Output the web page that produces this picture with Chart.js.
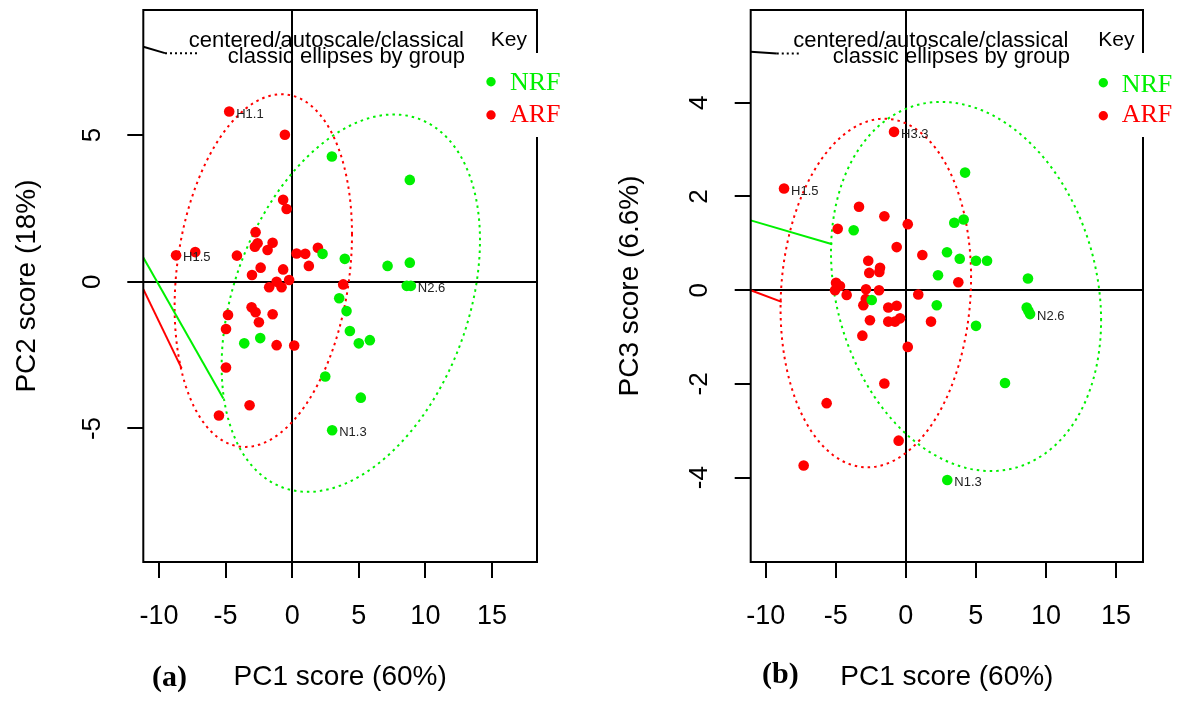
<!DOCTYPE html>
<html>
<head>
<meta charset="utf-8">
<script src="https://cdn.jsdelivr.net/npm/chart.js@4.4.1/dist/chart.umd.min.js"></script>
<style>
  html, body { margin: 0; padding: 0; background: #fff; }
  #wrap { position: relative; width: 1178px; height: 704px; }
  canvas { position: absolute; top: 0; }
  #ca { left: 0; }
  #cb { left: 589px; }
</style>
</head>
<body>
<div id="wrap">
  <canvas id="ca" width="589" height="704"></canvas>
  <canvas id="cb" width="589" height="704"></canvas>
</div>
<script>
/* PCA score plots: (a) PC1 vs PC2, (b) PC1 vs PC3 */

const xTicks = [-10, -5, 0, 5, 10, 15];
const yTicksA = [-5, 0, 5];
const yTicksB = [-4, -2, 0, 2, 4];

// --- panel (a) scores [PC1, PC2] ---
const nrfA = [[2.98, 4.27], [8.83, 3.47], [2.28, 0.95], [3.95, 0.78], [7.16, 0.54], [8.83, 0.65],
    [8.60, -0.14], [8.91, -0.14], [3.53, -0.56], [4.08, -1.00], [4.33, -1.68], [5.00, -2.10],
    [5.83, -1.99], [-3.60, -2.10], [-2.40, -1.92], [2.48, -3.23], [5.15, -3.95], [3.00, -5.06]];
const arfA = [[-4.73, 5.80], [-0.55, 5.01], [-0.68, 2.79], [-0.42, 2.48], [-2.75, 1.69], [-2.60, 1.31],
    [-2.80, 1.19], [-1.47, 1.33], [-1.85, 1.08], [-8.72, 0.90], [-7.28, 1.01], [-4.15, 0.89],
    [0.33, 0.96], [0.98, 0.95], [1.93, 1.16], [-2.37, 0.48], [-0.68, 0.42], [1.25, 0.54],
    [-3.02, 0.23], [-1.17, 0.00], [-0.23, 0.06], [-1.73, -0.19], [-0.80, -0.19], [3.83, -0.09],
    [-3.05, -0.87], [-2.75, -1.04], [-1.47, -1.11], [-4.82, -1.13], [-2.50, -1.38], [-4.97, -1.61],
    [-1.17, -2.16], [0.15, -2.17], [-4.97, -2.92], [-3.20, -4.21], [-5.50, -4.56]];

// --- panel (b) scores [PC1, PC3] ---
const nrfB = [[4.23, 2.51], [3.46, 1.44], [4.13, 1.51], [-3.72, 1.28], [2.94, 0.81], [3.85, 0.67],
    [5.01, 0.63], [5.80, 0.63], [2.30, 0.32], [8.72, 0.25], [-2.43, -0.21], [2.21, -0.32],
    [8.63, -0.37], [8.87, -0.51], [5.01, -0.76], [7.08, -1.98], [2.96, -4.05], [8.75, -0.44]];
const arfB = [[-0.84, 3.38], [-8.69, 2.17], [-3.34, 1.78], [-1.53, 1.58], [0.14, 1.41], [-4.86, 1.31],
    [-0.65, 0.92], [1.18, 0.75], [-2.68, 0.63], [-1.84, 0.48], [-2.61, 0.37], [-1.89, 0.39],
    [3.75, 0.17], [-4.98, 0.16], [-4.70, 0.09], [-5.05, 0.00], [-4.22, -0.10], [-2.84, 0.02],
    [-1.91, 0.00], [0.89, -0.09], [-2.86, -0.19], [-3.03, -0.32], [-1.25, -0.37], [-0.65, -0.33],
    [-2.56, -0.64], [-1.25, -0.67], [-0.77, -0.67], [-0.41, -0.60], [1.80, -0.67], [-3.10, -0.97],
    [0.14, -1.21], [-1.53, -1.99], [-5.65, -2.41], [-0.51, -3.21], [-7.29, -3.74]];

// sample tags: [dataset index (0 NRF, 1 ARF), point index, text]
const tagsA = [[1, 0, 'H1.1'], [1, 9, 'H1.5'], [0, 7, 'N2.6'], [0, 17, 'N1.3']];
const tagsB = [[1, 0, 'H3.3'], [1, 1, 'H1.5'], [0, 13, 'N2.6'], [0, 16, 'N1.3']];

// group ellipses: [centre x, centre y, half width, half height, x shift of top point]
const ellNrfA = [4.40, -0.73, 9.70, 6.43, 3.23];
const ellArfA = [-2.17, 0.38, 6.66, 6.01, 1.37];
const ellNrfB = [4.30, 0.08, 9.64, 3.94, -1.78];
const ellArfB = [-2.14, -0.06, 6.80, 3.72, 0.60];

// loading segments (clipped at the frame)
const loadNrfA = [[-11.18, 0.83], [-5.17, -3.98]];
const loadArfA = [[-11.18, -0.25], [-8.30, -2.95]];
const keyLineA = [[-11.18, 8.01], [-9.55, 7.79]];
const keyDotA = [[-9.55, 7.79], [-6.92, 7.79]];
const loadNrfB = [[-11.07, 1.49], [-5.25, 0.98]];
const loadArfB = [[-11.07, 0.00], [-8.86, -0.25]];
const keyLineB = [[-11.07, 5.09], [-9.21, 5.05]];
const keyDotB = [[-9.21, 5.05], [-7.43, 5.05]];

const GREEN = '#00f000';
const RED = '#ff0000';
const SANS = "'Liberation Sans', Arial, sans-serif";
const SERIF = "'Liberation Serif', 'Times New Roman', serif";

const toXY = arr => arr.map(p => ({ x: p[0], y: p[1] }));

function ellipse(p, color) {
    const [cx, cy, hx, hy, shift] = p;
    const phi = Math.acos(shift / hx);
    const pts = [];
    for (let i = 0; i <= 160; i++) {
        const t = i / 160 * 2 * Math.PI;
        pts.push({ x: cx + hx * Math.cos(t), y: cy + hy * Math.cos(t - phi) });
    }
    return { data: pts, showLine: true, borderColor: color, borderWidth: 2, borderDash: [2.5, 4],
             pointRadius: 0, tension: 0 };
}

function segment(arr, color, dash) {
    return { data: toXY(arr), showLine: true, borderColor: color, borderWidth: 2,
             borderDash: dash || [], pointRadius: 0 };
}

function points(arr, color) {
    return { data: toXY(arr), backgroundColor: color, borderWidth: 0, pointRadius: 5.3 };
}

// no extra room for label overflow: the frame is placed by afterFit sizes only
function noPad(s) {
    s.paddingTop = 0; s.paddingBottom = 0; s.paddingLeft = 0; s.paddingRight = 0;
}

// frame, key box, annotations and sample tags
const panelDeco = {
    id: 'panelDeco',
    afterDraw(chart, args, o) {
        const ctx = chart.ctx;
        const a = chart.chartArea;
        ctx.save();
        ctx.strokeStyle = '#000';
        ctx.lineWidth = 2;
        ctx.strokeRect(a.left, a.top, a.right - a.left, a.bottom - a.top);

        // tags next to points
        ctx.font = '13px ' + SANS;
        ctx.fillStyle = '#222';
        ctx.textAlign = 'left';
        ctx.textBaseline = 'middle';
        o.tags.forEach(([ds, i, txt]) => {
            const el = chart.getDatasetMeta(ds).data[i];
            ctx.fillText(txt, el.x + 7, el.y + 2.5);
        });

        // key
        ctx.fillStyle = '#fff';
        ctx.fillRect(o.keyX, 53, chart.width - o.keyX, 84);
        ctx.fillStyle = '#000';
        ctx.font = '21px ' + SANS;
        ctx.fillText('Key', o.keyTextX, 40.6);
        [[GREEN, 'NRF', o.nrfY, o.dotY[0]], [RED, 'ARF', 121.7, o.dotY[1]]].forEach(([c, t, by, dy]) => {
            ctx.fillStyle = c;
            ctx.beginPath();
            ctx.arc(o.dotX, dy, 4.7, 0, 2 * Math.PI);
            ctx.fill();
            ctx.font = '26px ' + SERIF;
            ctx.textBaseline = 'alphabetic';
            ctx.fillText(t, o.labX, by);
        });

        // annotation
        ctx.fillStyle = '#000';
        ctx.font = '22px ' + SANS;
        ctx.textAlign = 'right';
        ctx.textBaseline = 'middle';
        ctx.fillText('centered/autoscale/classical', o.note[0], 41.3);
        ctx.fillText('classic ellipses by group', o.note[1], 56.6);

        // panel letter
        ctx.textAlign = 'left';
        ctx.textBaseline = 'alphabetic';
        ctx.font = 'bold 30px ' + SERIF;
        ctx.fillText(o.letter, o.letterX, o.letterY);
        ctx.restore();
    }
};

function makeChart(id, cfg) {
    return new Chart(document.getElementById(id), {
        type: 'scatter',
        data: {
            datasets: [
                points(cfg.nrf, GREEN),
                points(cfg.arf, RED),
                segment(cfg.loadNrf, GREEN),
                segment(cfg.loadArf, RED),
                segment(cfg.keyLine, '#000'),
                segment(cfg.keyDot, '#000', [2, 3]),
                ellipse(cfg.ellNrf, GREEN),
                ellipse(cfg.ellArf, RED),
            ]
        },
        options: {
            responsive: false,
            animation: false,
            events: [],
            layout: { padding: { left: 0, top: 10, right: cfg.padRight, bottom: 0 } },
            plugins: {
                legend: { display: false },
                tooltip: { enabled: false },
                panelDeco: cfg.deco,
            },
            scales: {
                x: {
                    type: 'linear',
                    min: cfg.xRange[0], max: cfg.xRange[1],
                    afterBuildTicks: s => { s.ticks = xTicks.map(v => ({ value: v })); },
                    afterFit: s => { s.height = 142; noPad(s); },
                    border: { display: false },
                    grid: {
                        color: c => (c.tick && c.tick.value === 0 ? '#000' : 'rgba(0,0,0,0)'),
                        lineWidth: 2, tickColor: '#000', tickWidth: 2, tickLength: 16,
                    },
                    ticks: {
                        autoSkip: false, maxRotation: 0, padding: 22, color: '#000',
                        font: { family: SANS, size: 27 }, callback: v => String(v),
                    },
                    title: {
                        display: true, text: 'PC1 score (60%)', color: '#000',
                        font: { family: SANS, size: 28, lineHeight: 1.2 },
                        padding: { top: 0, bottom: 10 },
                    },
                },
                y: {
                    type: 'linear',
                    min: cfg.yRange[0], max: cfg.yRange[1],
                    afterBuildTicks: s => { s.ticks = cfg.yTicks.map(v => ({ value: v })); },
                    afterFit: s => { s.width = cfg.yWidth; noPad(s); },
                    border: { display: false },
                    grid: {
                        color: c => (c.tick && c.tick.value === 0 ? '#000' : 'rgba(0,0,0,0)'),
                        lineWidth: 2, tickColor: '#000', tickWidth: 2, tickLength: 16,
                    },
                    ticks: {
                        autoSkip: false, minRotation: 90, maxRotation: 90, crossAlign: 'center',
                        padding: 23, color: '#000',
                        font: { family: SANS, size: 26 }, callback: v => String(v),
                    },
                    title: {
                        display: true, text: cfg.yTitle, color: '#000',
                        font: { family: SANS, size: 28, lineHeight: 1.2 },
                        padding: { top: cfg.yTitlePad, bottom: 0 },
                    },
                },
            },
        },
        plugins: [panelDeco],
    });
}

makeChart('ca', {
    nrf: nrfA, arf: arfA, loadNrf: loadNrfA, loadArf: loadArfA, keyLine: keyLineA, keyDot: keyDotA,
    ellNrf: ellNrfA, ellArf: ellArfA,
    xRange: [-11.18, 18.38], yRange: [-9.55, 9.26], yTicks: yTicksA,
    yTitle: 'PC2 score (18%)', yTitlePad: 10, yWidth: 143.3, padRight: 52,
    deco: {
        tags: tagsA, keyX: 482, keyTextX: 490.7, dotX: 491, dotY: [81.7, 115], labX: 510, nrfY: 90,
        note: [464, 465], letter: '(a)', letterX: 152, letterY: 686,
    },
});

makeChart('cb', {
    nrf: nrfB, arf: arfB, loadNrf: loadNrfB, loadArf: loadArfB, keyLine: keyLineB, keyDot: keyDotB,
    ellNrf: ellNrfB, ellArf: ellArfB,
    xRange: [-11.07, 16.93], yRange: [-5.80, 5.98], yTicks: yTicksB,
    yTitle: 'PC3 score (6.6%)', yTitlePad: 24, yWidth: 161.7, padRight: 35,
    deco: {
        tags: tagsB, keyX: 499, keyTextX: 509.3, dotX: 514.3, dotY: [82.7, 115.7], labX: 532.7, nrfY: 91.7,
        note: [479.3, 481], letter: '(b)', letterX: 173, letterY: 683,
    },
});
</script>
</body>
</html>
